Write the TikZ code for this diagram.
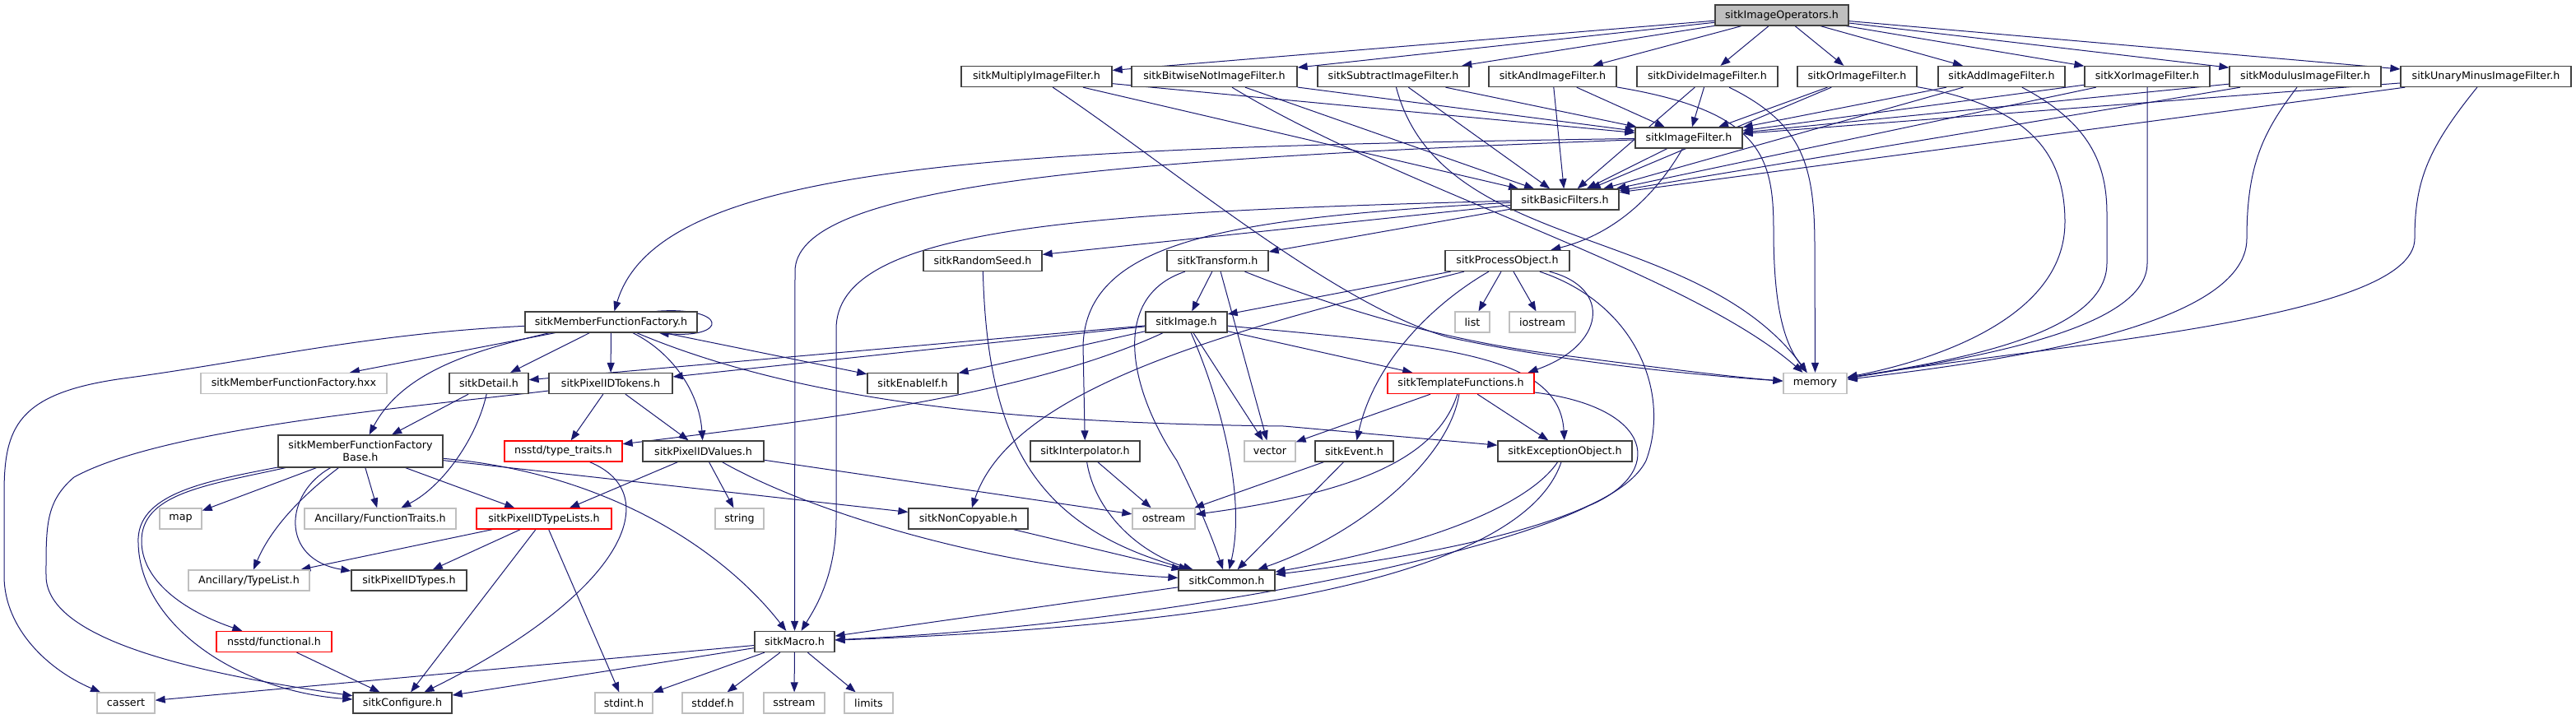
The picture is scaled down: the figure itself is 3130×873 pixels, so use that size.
\documentclass[tikz,border=0pt]{standalone}
\usepackage{fontspec}
\setmainfont{DejaVu Sans}
\usetikzlibrary{arrows.meta}
\definecolor{edgec}{HTML}{191970}
\definecolor{bordc}{HTML}{404040}
\definecolor{grayc}{HTML}{BFBFBF}
\definecolor{redc}{HTML}{FF0000}
\newcommand\nodefont{\fontsize{12.7}{14.7}\selectfont}
\pgfdeclarelayer{bg}
\pgfsetlayers{bg,main}
\begin{document}
\begin{tikzpicture}[x=1pt,y=-1pt,
  nb/.style={rectangle, draw=bordc, line width=1.3pt, fill=white, minimum height=25pt, inner sep=0pt, font=\nodefont, text=black},
  ng/.style={nb, draw=grayc},
  nr/.style={nb, draw=redc},
  nroot/.style={nb, fill=grayc},
  e/.style={draw=edgec, line width=1pt, -{Triangle[length=12pt,width=9pt]}}
]
\useasboundingbox (0,0) rectangle (3130,873);
% ---------- nodes ----------
\node[nroot, minimum width=162pt] (IO) at (2165,18.5) {sitkImageOperators.h};
\node[nb, minimum width=183pt] (Mul) at (1259.5,93) {sitkMultiplyImageFilter.h};
\node[nb, minimum width=201pt] (BNot) at (1475.5,93) {sitkBitwiseNotImageFilter.h};
\node[nb, minimum width=184pt] (Sub) at (1693,93) {sitkSubtractImageFilter.h};
\node[nb, minimum width=155pt] (And) at (1886.5,93) {sitkAndImageFilter.h};
\node[nb, minimum width=171pt] (Div) at (2074.5,93) {sitkDivideImageFilter.h};
\node[nb, minimum width=145pt] (Or) at (2256.5,93) {sitkOrImageFilter.h};
\node[nb, minimum width=154pt] (Add) at (2432,93) {sitkAddImageFilter.h};
\node[nb, minimum width=152pt] (Xor) at (2609,93) {sitkXorImageFilter.h};
\node[nb, minimum width=184pt] (Mod) at (2801,93) {sitkModulusImageFilter.h};
\node[nb, minimum width=207pt] (Una) at (3020.5,93) {sitkUnaryMinusImageFilter.h};
\node[nb, minimum width=130pt] (IF) at (2052,167.5) {sitkImageFilter.h};
\node[nb, minimum width=131pt] (BF) at (1901.5,242.5) {sitkBasicFilters.h};
\node[nb, minimum width=144pt] (RS) at (1194,317) {sitkRandomSeed.h};
\node[nb, minimum width=123pt] (TR) at (1479.5,317) {sitkTransform.h};
\node[nb, minimum width=151pt] (PO) at (1831.5,317) {sitkProcessObject.h};
\node[nb, minimum width=209pt] (MFF) at (742.5,391.5) {sitkMemberFunctionFactory.h};
\node[nb, minimum width=99pt] (IMG) at (1441.5,391.5) {sitkImage.h};
\node[ng, minimum width=42pt] (nlist) at (1789,391.5) {list};
\node[ng, minimum width=80pt] (niostream) at (1874,391.5) {iostream};
\node[ng, minimum width=226pt] (hxx) at (357,466) {sitkMemberFunctionFactory.hxx};
\node[nb, minimum width=96pt] (DET) at (594,466) {sitkDetail.h};
\node[nb, minimum width=150pt] (TOK) at (742,466) {sitkPixelIDTokens.h};
\node[nb, minimum width=110pt] (EIF) at (1109,466) {sitkEnableIf.h};
\node[nr, minimum width=178pt] (TF) at (1775,466) {sitkTemplateFunctions.h};
\node[ng, minimum width=77pt] (nmemory) at (2205.5,466) {memory};
\node[nb, minimum width=200pt, minimum height=39pt, align=center] (MFB) at (438,548.5) {sitkMemberFunctionFactory\\Base.h};
\node[nr, minimum width=143pt] (TT) at (684.5,548.5) {nsstd/type\_traits.h};
\node[nb, minimum width=147pt] (VAL) at (854.5,548.5) {sitkPixelIDValues.h};
\node[nb, minimum width=133pt] (INT) at (1318.5,548.5) {sitkInterpolator.h};
\node[ng, minimum width=62pt] (nvector) at (1543,548.5) {vector};
\node[nb, minimum width=95pt] (EV) at (1645.5,548.5) {sitkEvent.h};
\node[nb, minimum width=163pt] (EO) at (1901.5,548.5) {sitkExceptionObject.h};
\node[ng, minimum width=51pt] (nmap) at (219.5,630.5) {map};
\node[ng, minimum width=184pt] (FT) at (462,630.5) {Ancillary/FunctionTraits.h};
\node[nr, minimum width=164pt] (TL) at (661,630.5) {sitkPixelIDTypeLists.h};
\node[ng, minimum width=59pt] (nstring) at (898.5,630.5) {string};
\node[nb, minimum width=145pt] (NC) at (1176.5,630.5) {sitkNonCopyable.h};
\node[ng, minimum width=76pt] (nostream) at (1414,630.5) {ostream};
\node[ng, minimum width=147pt] (ATL) at (302.5,705.5) {Ancillary/TypeList.h};
\node[nb, minimum width=140pt] (PT) at (497,705.5) {sitkPixelIDTypes.h};
\node[nb, minimum width=117pt] (COM) at (1490.5,705.5) {sitkCommon.h};
\node[nr, minimum width=140pt] (FUN) at (333,780) {nsstd/functional.h};
\node[nb, minimum width=97pt] (MAC) at (965.5,780) {sitkMacro.h};
\node[ng, minimum width=70pt] (ncassert) at (153,854.5) {cassert};
\node[nb, minimum width=120pt] (CFG) at (489,854.5) {sitkConfigure.h};
\node[ng, minimum width=70pt] (nstdint) at (758,854.5) {stdint.h};
\node[ng, minimum width=74pt] (nstddef) at (866,854.5) {stddef.h};
\node[ng, minimum width=74pt] (nsstream) at (965,854.5) {sstream};
\node[ng, minimum width=59pt] (nlimits) at (1055.5,854.5) {limits};
% ---------- edges ----------
\begin{pgfonlayer}{bg}
\foreach \t in {Mul,BNot,Sub,And,Div,Or,Add,Xor,Mod,Una}{
  \draw[e] (IO) -- (\t);
  \draw[e] (\t) -- (IF);
  \draw[e] (\t) -- (BF);
}
% filters -> memory
\draw[e] (Mul) .. controls (1420,200) and (1620,370) .. (1760,410) .. controls (1900,440) and (2050,455) .. (nmemory);
\draw[e] (BNot) .. controls (1700,230) and (2050,330) .. (nmemory);
\draw[e] (Sub) .. controls (1750,310) and (2060,270) .. (nmemory);
\draw[e] (And) .. controls (2140,135) and (2155,190) .. (2155,280) .. controls (2155,380) and (2170,420) .. (nmemory);
\draw[e] (Div) .. controls (2190,150) and (2205,200) .. (2205,300) -- (nmemory);
\draw[e] (Or) .. controls (2470,130) and (2509,190) .. (2509,270) .. controls (2509,390) and (2340,440) .. (nmemory);
\draw[e] (Add) .. controls (2540,150) and (2560,200) .. (2560,260) -- (2560,320) .. controls (2560,410) and (2360,440) .. (nmemory);
\draw[e] (Xor) -- (2609,320) .. controls (2609,400) and (2400,435) .. (nmemory);
\draw[e] (Mod) .. controls (2750,160) and (2730,200) .. (2730,290) .. controls (2730,400) and (2420,440) .. (nmemory);
\draw[e] (Una) .. controls (2950,180) and (2934,220) .. (2934,290) .. controls (2934,390) and (2480,420) .. (nmemory);
% ImageFilter
\draw[e] (IF) -- (BF);
\draw[e] (IF) .. controls (2010,240) and (1960,285) .. (PO);
\draw[e] (IF) .. controls (1200,180) and (800,200) .. (MFF);
\draw[e] (IF) .. controls (1300,195) and (966,230) .. (966,330) -- (MAC);
% BasicFilters
\draw[e] (BF) -- (RS);
\draw[e] (BF) -- (TR);
\draw[e] (BF) .. controls (1500,265) and (1320,290) .. (1316,420) -- (INT);
\draw[e] (BF) .. controls (1300,258) and (1016,278) .. (1016,400) -- (1016,630) .. controls (1016,700) and (990,740) .. (MAC);
% RandomSeed
\draw[e] (RS) .. controls (1200,540) and (1260,640) .. (COM);
% Transform
\draw[e] (TR) -- (IMG);
\draw[e] (TR) -- (nvector);
\draw[e] (TR) .. controls (1350,360) and (1370,470) .. (1430,560) .. controls (1460,620) and (1475,660) .. (COM);
\draw[e] (TR) .. controls (1650,385) and (1780,418) .. (1900,432) .. controls (2000,445) and (2100,458) .. (nmemory);
% ProcessObject
\draw[e] (PO) -- (IMG);
\draw[e] (PO) .. controls (1500,400) and (1230,470) .. (NC);
\draw[e] (PO) .. controls (1740,370) and (1670,440) .. (EV);
\draw[e] (PO) .. controls (1960,350) and (1950,420) .. ([xshift=-8pt]TF.north east);
\draw[e] (PO) .. controls (1990,370) and (2030,480) .. (2000,560) .. controls (1960,640) and (1700,680) .. (COM);
\draw[e] (PO) -- (nlist);
\draw[e] (PO) -- (niostream);
% Image
\draw[e] (IMG) -- (DET);
\draw[e] (IMG) -- (TOK);
\draw[e] (IMG) -- (EIF);
\draw[e] (IMG) .. controls (1250,480) and (1000,510) .. (TT);
\draw[e] (IMG) -- (TF);
\draw[e] (IMG) .. controls (1750,420) and (1895,430) .. (EO);
\draw[e] (IMG) -- (nvector);
\draw[e] (IMG) .. controls (1480,480) and (1515,600) .. (COM);
% TemplateFunctions
\draw[e] (TF) -- (nvector);
\draw[e] (TF) -- (EO);
\draw[e] (TF) .. controls (1745,560) and (1640,600) .. (nostream);
\draw[e] (TF) .. controls (1760,560) and (1650,650) .. (COM);
\draw[e] (TF) .. controls (2010,495) and (2025,575) .. (1930,615) .. controls (1800,680) and (1400,760) .. (MAC);
% ExceptionObject
\draw[e] (EO) .. controls (1860,610) and (1750,660) .. (COM);
\draw[e] (EO) .. controls (1850,700) and (1500,760) .. (MAC);
% Event, Interpolator, NonCopyable, Common
\draw[e] (EV) -- (COM);
\draw[e] (EV) -- (nostream);
\draw[e] (INT) -- (nostream);
\draw[e] (INT) .. controls (1330,620) and (1380,670) .. (COM);
\draw[e] (NC) -- (COM);
\draw[e] (COM) -- (MAC);
% Macro
\foreach \t in {ncassert,CFG,nstdint,nstddef,nsstream,nlimits}{\draw[e] (MAC) -- (\t);}
% MemberFunctionFactory
\draw[e] ([xshift=-50pt]MFF.north east) .. controls (885,372) and (885,412) .. ([xshift=-47pt]MFF.south east);
\draw[e] (MFF) .. controls (450,405) and (300,440) .. (150,460) .. controls (20,478) and (5,520) .. (5,600) -- (5,700) .. controls (5,765) and (60,815) .. (ncassert);
\draw[e] (MFF) -- (hxx);
\draw[e] (MFF) -- (DET);
\draw[e] (MFF) -- (TOK);
\draw[e] ([xshift=-75pt]MFF.south) .. controls (580,425) and (490,450) .. (MFB);
\draw[e] (MFF) .. controls (820,430) and (850,480) .. (VAL);
\draw[e] (MFF) -- (EIF);
\draw[e] (MFF) .. controls (1000,500) and (1300,515) .. (1560,518) -- (EO);
% Detail
\draw[e] (DET) -- (MFB);
\draw[e] (DET) .. controls (580,530) and (540,590) .. (FT);
% PixelIDTokens
\draw[e] (TOK) -- (TT);
\draw[e] (TOK) -- (VAL);
\draw[e] (TOK) .. controls (500,495) and (200,520) .. (90,580) .. controls (55,610) and (56,640) .. (56,700) .. controls (56,780) and (250,820) .. (CFG);
% PixelIDValues
\draw[e] (VAL) -- (TL);
\draw[e] (VAL) -- (nstring);
\draw[e] (VAL) -- (nostream);
\draw[e] (VAL) .. controls (980,620) and (1200,690) .. (COM);
% MemberFunctionFactoryBase
\draw[e] (MFB) -- (nmap);
\draw[e] (MFB) -- (FT);
\draw[e] (MFB) -- (TL);
\draw[e] (MFB) .. controls (370,600) and (330,640) .. (ATL);
\draw[e] (MFB) .. controls (345,600) and (340,680) .. (PT);
\draw[e] (MFB) .. controls (250,590) and (170,600) .. (172,660) .. controls (174,710) and (230,745) .. (FUN);
\draw[e] (MFB) .. controls (250,585) and (165,600) .. (168,660) .. controls (170,760) and (290,840) .. (CFG);
\draw[e] (MFB) -- (NC);
\draw[e] (MFB) .. controls (740,575) and (880,670) .. (MAC);
% type_traits
\draw[e] (TT) .. controls (810,600) and (760,720) .. (CFG);
% PixelIDTypeLists
\draw[e] (TL) -- (ATL);
\draw[e] (TL) -- (PT);
\draw[e] (TL) -- (CFG);
\draw[e] (TL) -- (nstdint);
% functional
\draw[e] (FUN) -- (CFG);
\end{pgfonlayer}
\end{tikzpicture}
\end{document}
